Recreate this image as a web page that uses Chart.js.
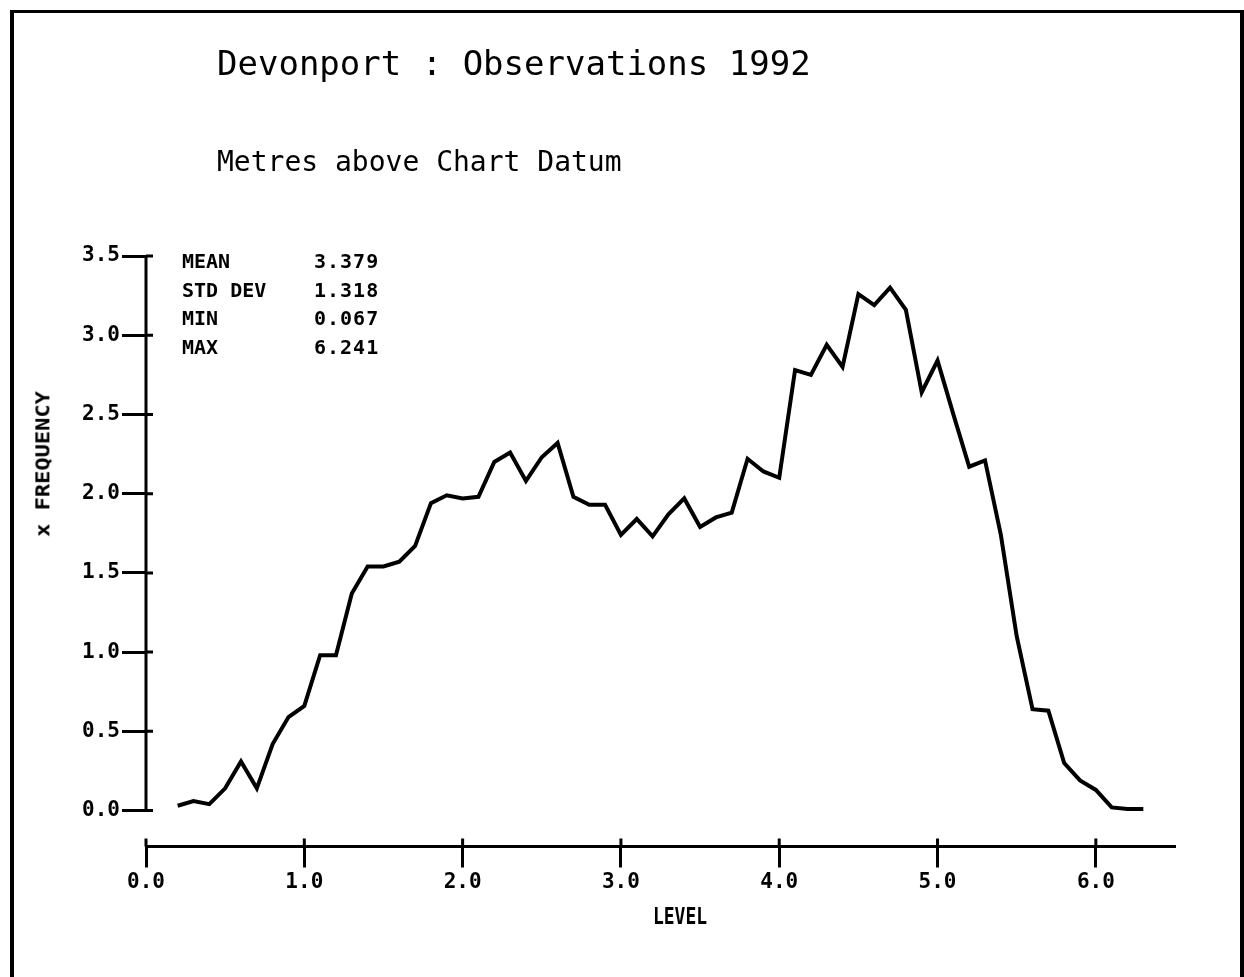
<!DOCTYPE html>
<html>
<head>
<meta charset="utf-8">
<title>Devonport : Observations 1992</title>
<script src="https://cdn.jsdelivr.net/npm/chart.js"></script>
<style>
  body { margin: 0; background: #fff; }
  #wrap { position: relative; width: 1244px; height: 977px; overflow: hidden; }
  #frame { position: absolute; left: 10px; top: 10px; width: 1226px; height: 1000px;
           border: 4px solid #000; border-top-width: 3px; border-bottom: none; }
  canvas { position: absolute; left: 0; top: 0; }
  .txt { position: absolute; font-family: 'DejaVu Sans Mono', monospace; color: #000; white-space: pre; }
  #title { left: 217px; top: 46px; font-size: 34px; line-height: 34px; }
  #subtitle { left: 217px; top: 148px; font-size: 28px; line-height: 28px; }
  .stats { top: 247px; font-size: 20px; line-height: 28.7px; font-weight: bold; }
  #statNames { left: 182px; }
  #statValues { left: 314px; letter-spacing: 1px; }
  #ytitle { left: 43px; top: 464px; font-size: 22px; font-weight: bold;
            transform: translate(-50%, -50%) rotate(-90deg) scale(1, 0.85); }
  #xtitle { left: 680px; top: 916px; font-size: 18px; font-weight: bold;
            transform: translate(-50%, -50%) scale(1, 1.3); }
</style>
</head>
<body>
<div id="wrap">
  <div id="frame"></div>
  <canvas id="mainChart" width="1244" height="977"></canvas>
  <div class="txt" id="title">Devonport : Observations 1992</div>
  <div class="txt" id="subtitle">Metres above Chart Datum</div>
  <div class="txt stats" id="statNames"></div>
  <div class="txt stats" id="statValues"></div>
  <div class="txt" id="ytitle">x FREQUENCY</div>
  <div class="txt" id="xtitle">LEVEL</div>
</div>
<script>
// level (m above chart datum), every 0.1 m
const levels = [
  0.2, 0.3, 0.4, 0.5, 0.6, 0.7, 0.8, 0.9, 1.0, 1.1,
  1.2, 1.3, 1.4, 1.5, 1.6, 1.7, 1.8, 1.9, 2.0, 2.1,
  2.2, 2.3, 2.4, 2.5, 2.6, 2.7, 2.8, 2.9, 3.0, 3.1,
  3.2, 3.3, 3.4, 3.5, 3.6, 3.7, 3.8, 3.9, 4.0, 4.1,
  4.2, 4.3, 4.4, 4.5, 4.6, 4.7, 4.8, 4.9, 5.0, 5.1,
  5.2, 5.3, 5.4, 5.5, 5.6, 5.7, 5.8, 5.9, 6.0, 6.1,
  6.2, 6.3
];
// % frequency
const frequency = [
  0.03, 0.06, 0.04, 0.14, 0.31, 0.14, 0.42, 0.59, 0.66, 0.98,
  0.98, 1.37, 1.54, 1.54, 1.57, 1.67, 1.94, 1.99, 1.97, 1.98,
  2.20, 2.26, 2.08, 2.23, 2.32, 1.98, 1.93, 1.93, 1.74, 1.84,
  1.73, 1.87, 1.97, 1.79, 1.85, 1.88, 2.22, 2.14, 2.10, 2.78,
  2.75, 2.94, 2.80, 3.26, 3.19, 3.30, 3.16, 2.64, 2.84, 2.50,
  2.17, 2.21, 1.74, 1.10, 0.64, 0.63, 0.30, 0.19, 0.13, 0.02,
  0.01, 0.01
];
const xTicks = [0, 1, 2, 3, 4, 5, 6];
const yTicks = [0, 0.5, 1.0, 1.5, 2.0, 2.5, 3.0, 3.5];
const statNames = ['MEAN', 'STD DEV', 'MIN', 'MAX'];
const statValues = ['3.379', '1.318', '0.067', '6.241'];

document.getElementById('statNames').textContent = statNames.join('\n');
document.getElementById('statValues').textContent = statValues.join('\n');

const tickFont = { family: 'DejaVu Sans Mono', size: 21, weight: 'bold' };

// y axis line (0..3.5 only) and the short stubs on the far side of each axis
const axisExtras = {
  id: 'axisExtras',
  afterDraw(chart) {
    const ctx = chart.ctx;
    const xs = chart.scales.x, ys = chart.scales.y;
    const ax = chart.chartArea.left;
    const ay = chart.chartArea.bottom;
    ctx.save();
    ctx.strokeStyle = '#000';
    ctx.lineWidth = 3;
    ctx.beginPath();
    ctx.moveTo(ax, ys.getPixelForValue(yTicks[0]));
    ctx.lineTo(ax, ys.getPixelForValue(yTicks[yTicks.length - 1]));
    yTicks.forEach(v => {
      const py = ys.getPixelForValue(v);
      ctx.moveTo(ax, py);
      ctx.lineTo(ax + 7, py);
    });
    xTicks.forEach(v => {
      const px = xs.getPixelForValue(v);
      ctx.moveTo(px, ay);
      ctx.lineTo(px, ay - 8);
    });
    ctx.stroke();
    ctx.restore();
  }
};

new Chart(document.getElementById('mainChart'), {
  type: 'line',
  data: {
    datasets: [{
      data: levels.map((l, i) => ({ x: l, y: frequency[i] })),
      borderColor: '#000',
      borderWidth: 4,
      pointRadius: 0,
      tension: 0,
      fill: false
    }]
  },
  options: {
    responsive: false,
    devicePixelRatio: 1,
    animation: false,
    layout: { padding: { left: 0, right: 69, top: 256, bottom: 70.5 } },
    plugins: { legend: { display: false }, tooltip: { enabled: false } },
    scales: {
      x: {
        type: 'linear',
        min: 0,
        max: 6.5,
        afterBuildTicks: s => { s.ticks = xTicks.map(v => ({ value: v })); },
        afterFit: s => { s.height = 60; },
        ticks: {
          color: '#000',
          font: tickFont,
          padding: 2,
          maxRotation: 0,
          callback: v => Number(v).toFixed(1)
        },
        grid: { drawOnChartArea: false, tickLength: 21, tickWidth: 3, tickColor: '#000' },
        border: { display: true, color: '#000', width: 3 }
      },
      y: {
        type: 'linear',
        min: -0.227,
        max: 3.5,
        afterBuildTicks: s => { s.ticks = yTicks.map(v => ({ value: v })); },
        afterFit: s => { s.width = 146; },
        ticks: {
          color: '#000',
          font: tickFont,
          padding: 2,
          callback: v => Number(v).toFixed(1)
        },
        grid: { drawOnChartArea: false, tickLength: 24, tickWidth: 3, tickColor: '#000' },
        border: { display: false }
      }
    }
  },
  plugins: [axisExtras]
});
</script>
</body>
</html>
